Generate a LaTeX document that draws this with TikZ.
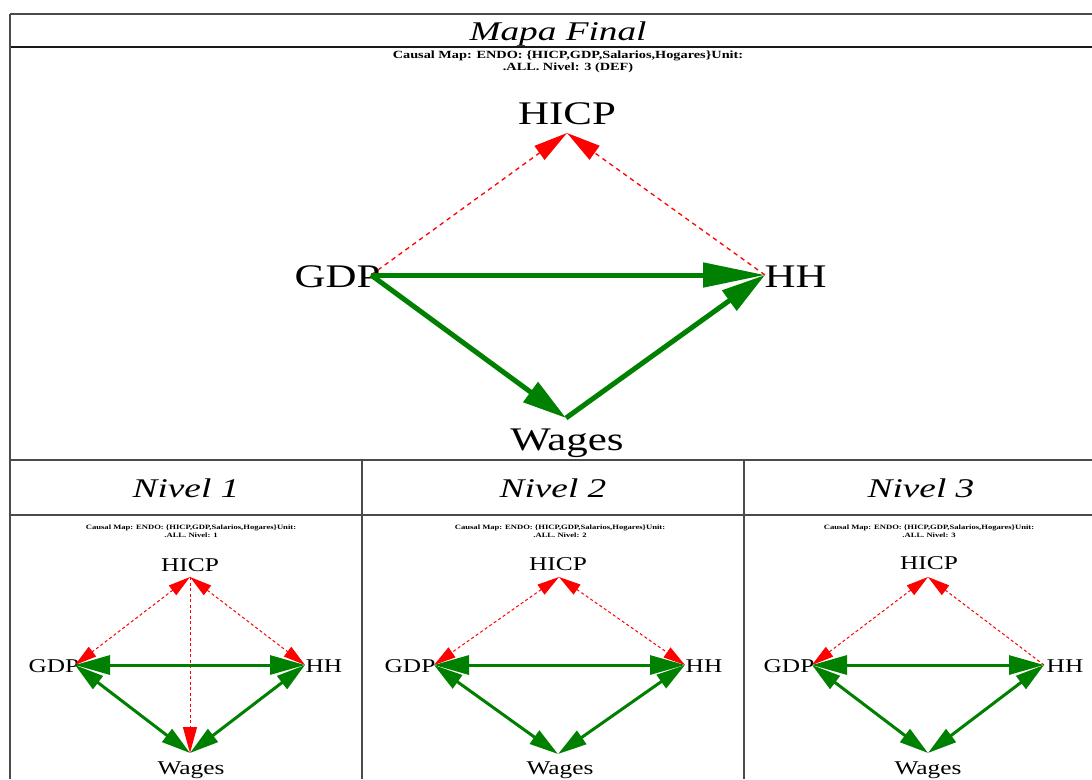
\documentclass[tikz,border=0pt]{standalone}
\usepackage{fontspec}
\setmainfont{Liberation Serif}
\usetikzlibrary{arrows.meta}
\definecolor{gvgreen}{RGB}{0,128,0}
\definecolor{gvred}{RGB}{255,0,0}
\definecolor{rulegray}{RGB}{75,75,75}
\begin{document}
\begin{tikzpicture}[x=1pt,y=-1pt,
  bigtxt/.style={font=\fontsize{33}{33}\selectfont, xscale=1.3, inner sep=0, anchor=base},
  smalltxt/.style={font=\fontsize{19.5}{19.5}\selectfont, xscale=1.3, inner sep=0, anchor=base},
  ttl/.style={font=\fontsize{27}{27}\selectfont\itshape, xscale=1.38, inner sep=0, anchor=base},
  subbig/.style={font=\fontsize{11}{12}\selectfont\bfseries, xscale=1.3, inner sep=0, anchor=base, text=black},
  subsmall/.style={font=\fontsize{6.6}{7}\selectfont\bfseries, xscale=1.3, inner sep=0, anchor=base, text=black},
  tline/.style={draw=rulegray, line width=1.6pt},
  tlinedark/.style={draw=black!90, line width=1.8pt},
  gbig/.style={draw=gvgreen, line width=5pt},
  rbig/.style={draw=gvred, line width=1.3pt, dash pattern=on 4.5pt off 4pt},
  gsm/.style={draw=gvgreen, line width=3pt},
  rsm/.style={draw=gvred, line width=1pt, dash pattern=on 3pt off 2.5pt},
  gh/.tip={Triangle[length=62pt,width=24pt]},
  gd/.tip={Triangle[length=44pt,width=24pt]},
  rh/.tip={Triangle[length=34pt,width=17pt]},
  sgh/.tip={Triangle[length=35pt,width=19pt]},
  sgd/.tip={Triangle[length=29pt,width=16pt]},
  srh/.tip={Triangle[length=22pt,width=12pt]},
  srv/.tip={Triangle[length=26pt,width=14pt]}
]
\useasboundingbox (0,0) rectangle (1092,779);
\fill[white] (0,0) rectangle (1092,779);

% table rules
\draw[tline] (10,14) -- (1092,14);
\draw[tlinedark] (10,47) -- (1092,47);
\draw[tline] (10,14) -- (10,779);
\draw[tline] (10,460) -- (1092,460);
\draw[tline] (10,515) -- (1092,515);
\draw[tline] (362,460) -- (362,779);
\draw[tline] (744,460) -- (744,779);

% titles
\node[ttl] (tmain) at (558,40) {Mapa Final};
\node[ttl] (tn1) at (186,497) {Nivel 1};
\node[ttl] (tn2) at (553,497) {Nivel 2};
\node[ttl] (tn3) at (921,497) {Nivel 3};

% ===== top map =====
\node[subbig] (s0a) at (568,58) {Causal Map: ENDO: \{HICP,GDP,Salarios,Hogares\}Unit:};
\node[subbig] (s0b) at (568,70) {.ALL. Nivel: 3 (DEF)};
\node[bigtxt] (l0hicp) at (567,124) {HICP};
\node[bigtxt] (l0gdp) at (337.5,287) {GDP};
\node[bigtxt] (l0hh) at (795.5,287) {HH};
\node[bigtxt] (l0wag) at (567,450) {Wages};
\coordinate (a0hicp) at (567,133);
\coordinate (a0gdp) at (371,275);
\coordinate (a0hh) at (765,275);
\coordinate (a0wag) at (566,418);
\draw[rbig,-{rh}] (a0gdp) -- (a0hicp);
\draw[rbig,-{rh}] (a0hh) -- (a0hicp);
\draw[gbig,-{gh}] (a0gdp) -- (a0hh);
\draw[gbig,-{gd}] (a0gdp) -- (a0wag);
\draw[gbig,-{gd}] (a0wag) -- (a0hh);

% ===== Nivel 1 =====
\node[subsmall] (s1a) at (191,529) {Causal Map: ENDO: \{HICP,GDP,Salarios,Hogares\}Unit:};
\node[subsmall] (s1b) at (191,537) {.ALL. Nivel: 1};
\node[smalltxt] (l1hicp) at (190,571) {HICP};
\node[smalltxt] (l1gdp) at (54,672) {GDP};
\node[smalltxt] (l1hh) at (324,672) {HH};
\node[smalltxt] (l1wag) at (191,774) {Wages};
\coordinate (a1hicp) at (190,577);
\coordinate (a1gdp) at (75,665);
\coordinate (a1hh) at (305,665);
\coordinate (a1wag) at (190,753);
\draw[rsm,{srh}-{srh}] (a1hicp) -- (a1gdp);
\draw[rsm,{srh}-{srh}] (a1hicp) -- (a1hh);
\draw[rsm,-{srv}] (a1hicp) -- (a1wag);
\draw[gsm,{sgh}-{sgh}] (a1gdp) -- (a1hh);
\draw[gsm,{sgd}-{sgd}] (a1gdp) -- (a1wag);
\draw[gsm,{sgd}-{sgd}] (a1hh) -- (a1wag);

% ===== Nivel 2 =====
\node[subsmall] (s2a) at (560,529) {Causal Map: ENDO: \{HICP,GDP,Salarios,Hogares\}Unit:};
\node[subsmall] (s2b) at (560,537) {.ALL. Nivel: 2};
\node[smalltxt] (l2hicp) at (558,570) {HICP};
\node[smalltxt] (l2gdp) at (410,672) {GDP};
\node[smalltxt] (l2hh) at (704,672) {HH};
\node[smalltxt] (l2wag) at (560,774) {Wages};
\coordinate (a2hicp) at (559,577);
\coordinate (a2gdp) at (434,665);
\coordinate (a2hh) at (685,665);
\coordinate (a2wag) at (558,754);
\draw[rsm,{srh}-{srh}] (a2hicp) -- (a2gdp);
\draw[rsm,{srh}-{srh}] (a2hicp) -- (a2hh);
\draw[gsm,{sgh}-{sgh}] (a2gdp) -- (a2hh);
\draw[gsm,{sgd}-{sgd}] (a2gdp) -- (a2wag);
\draw[gsm,{sgd}-{sgd}] (a2hh) -- (a2wag);

% ===== Nivel 3 =====
\node[subsmall] (s3a) at (929,529) {Causal Map: ENDO: \{HICP,GDP,Salarios,Hogares\}Unit:};
\node[subsmall] (s3b) at (929,537) {.ALL. Nivel: 3};
\node[smalltxt] (l3hicp) at (929,569) {HICP};
\node[smalltxt] (l3gdp) at (789,672) {GDP};
\node[smalltxt] (l3hh) at (1065,672) {HH};
\node[smalltxt] (l3wag) at (928,774) {Wages};
\coordinate (a3hicp) at (928,577);
\coordinate (a3gdp) at (812,665);
\coordinate (a3hh) at (1044,665);
\coordinate (a3wag) at (928,753);
\draw[rsm,{srh}-{srh}] (a3hicp) -- (a3gdp);
\draw[rsm,-{srh}] (a3hh) -- (a3hicp);
\draw[gsm,{sgh}-{sgh}] (a3gdp) -- (a3hh);
\draw[gsm,{sgd}-{sgd}] (a3gdp) -- (a3wag);
\draw[gsm,{sgd}-{sgd}] (a3hh) -- (a3wag);
\end{tikzpicture}
\end{document}
